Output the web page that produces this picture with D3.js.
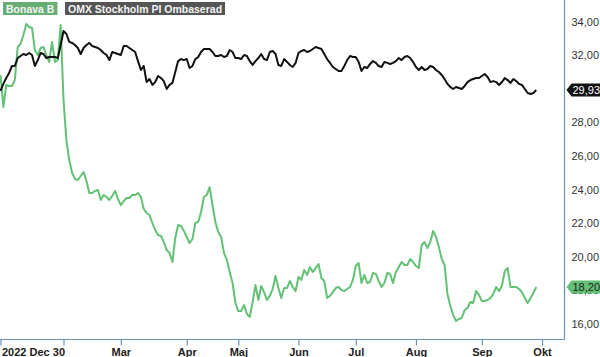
<!DOCTYPE html>
<html><head><meta charset="utf-8">
<script src="https://cdn.jsdelivr.net/npm/d3@7"></script>
<style>
html,body{margin:0;padding:0;background:#fff;}
svg{display:block;font-family:"Liberation Sans",Arial,sans-serif;}
</style></head>
<body>
<svg id="c" width="600" height="357"></svg>
<script>
// ---- data (trading-day index 0 = 2022 Dec 30) ----
const seriesNames = ["Bonava B", "OMX Stockholm PI Ombaserad"];
const bonava = [
30.82,28.92,30.23,30.17,30.17,30.52,32.49,32.67,33.20,33.86,
33.68,33.62,32.31,32.01,32.43,32.49,32.01,31.60,32.79,31.60,
31.71,33.80,29.33,26.95,25.76,24.99,24.63,24.57,24.81,25.05,
24.51,23.80,23.80,23.92,23.98,23.38,23.68,23.56,23.38,23.62,
23.92,23.44,23.08,23.32,23.50,23.50,23.68,23.68,23.80,23.56,
22.85,22.61,22.49,22.01,21.60,21.30,21.24,20.88,20.40,20.23,
19.69,21.12,21.89,21.83,21.54,21.18,20.82,21.06,22.01,22.07,
22.67,23.56,23.68,24.15,23.08,22.07,21.48,21.18,20.23,19.81,
19.10,18.44,17.25,16.77,16.77,17.13,16.60,16.42,17.31,18.32,
17.43,18.26,17.90,17.43,17.67,18.08,18.86,18.14,17.55,18.14,
18.14,18.56,18.20,17.96,18.80,18.62,19.21,18.92,19.39,19.10,
19.33,19.57,18.74,18.56,17.55,17.67,17.90,18.14,18.20,18.02,
17.96,18.08,18.20,18.62,19.45,19.63,18.44,18.92,18.44,18.50,
19.04,18.98,18.56,18.20,18.44,19.04,18.98,18.44,19.10,19.39,
19.69,19.51,19.51,19.87,19.69,19.45,19.33,20.70,20.88,20.52,
20.88,21.54,21.18,20.58,19.87,19.51,17.79,17.07,16.54,16.18,
16.30,16.36,16.83,16.95,17.31,17.25,17.96,17.73,17.37,17.37,
17.43,17.55,17.79,18.20,17.96,18.26,19.15,19.33,18.20,18.20,
18.20,18.08,17.90,17.55,17.25,17.55,17.85,18.20
];
const omx = [
29.87,30.29,30.64,30.94,31.36,31.36,31.83,31.95,32.07,32.01,
32.13,32.01,31.36,31.71,32.13,32.07,31.83,31.89,31.89,31.89,
31.83,32.61,33.44,33.26,32.79,32.73,32.61,32.43,32.07,32.43,
32.61,32.73,32.55,32.49,32.43,32.31,32.13,32.01,31.71,32.19,
32.13,32.07,32.01,32.55,32.55,32.43,32.31,32.19,31.65,31.12,
31.36,30.40,30.58,30.23,30.40,30.76,30.64,30.46,29.99,30.23,
30.35,31.00,31.65,31.77,31.71,31.77,31.24,31.36,31.77,31.89,
32.19,32.37,32.37,32.37,32.19,31.95,31.95,32.01,31.89,31.95,
32.31,32.19,31.83,31.83,31.77,32.01,31.95,31.65,31.42,31.65,
31.83,32.07,31.77,31.71,32.19,32.25,32.07,31.42,31.36,31.77,
31.60,31.42,31.30,31.54,32.13,32.25,32.31,32.19,32.25,32.37,
32.49,32.43,32.37,32.07,31.77,31.54,31.30,31.18,31.06,31.06,
31.36,31.71,31.95,31.89,31.89,31.60,31.06,31.30,31.24,31.48,
31.65,31.54,31.36,31.30,31.60,31.54,31.48,31.54,31.65,31.83,
31.71,31.89,31.95,31.83,31.60,31.30,31.12,31.30,31.12,31.18,
31.36,31.30,31.12,31.00,30.82,30.58,30.29,30.11,29.99,30.11,
30.05,29.99,30.17,30.40,30.52,30.58,30.64,30.64,30.76,30.88,
30.70,30.40,30.46,30.40,30.23,30.40,30.64,30.52,30.35,30.58,
30.46,30.29,30.23,29.99,29.75,29.69,29.75,29.93
];
const xTickLabels = ["2022 Dec 30", "", "Mar", "Apr", "Maj", "Jun", "Jul", "Aug", "Sep", "Okt"];
const xTickIndex  = [0, 22, 42, 65, 83, 104, 124, 145, 168, 189];
const yTickValues = [16, 18, 20, 22, 24, 26, 28, 30, 32, 34];

// ---- layout ----
const W = 600, H = 357;
const plotR = 564.5, plotB = 339.5;
const GREEN = "#62c174", GREEN_LEG = "#66ae74", BLACK = "#111111", AXIS = "#6a93b6";

const svg = d3.select("#c");
const x = d3.scaleLinear().domain([0, 189]).range([0.5, 542]);
const y = d3.scaleLinear().domain([16, 34]).range([324, 21.6]);

svg.append("defs").append("clipPath").attr("id", "clip")
  .append("rect").attr("x", 0).attr("y", 0).attr("width", plotR).attr("height", plotB);

const line = d3.line().x((d, i) => x(i)).y(d => y(d)).curve(d3.curveLinear);
const g = svg.append("g").attr("clip-path", "url(#clip)");
g.append("path").datum(bonava).attr("d", line)
  .attr("fill", "none").attr("stroke", GREEN).attr("stroke-width", 2).attr("stroke-linejoin", "round");
g.append("path").datum(omx).attr("d", line)
  .attr("fill", "none").attr("stroke", BLACK).attr("stroke-width", 2).attr("stroke-linejoin", "round");

// bottom axis
const xAxis = d3.axisBottom(x).tickValues(xTickIndex)
  .tickFormat((d, i) => xTickLabels[i]).tickSize(6).tickSizeOuter(0).tickPadding(3);
const gx = svg.append("g").attr("transform", `translate(0,${plotB})`).call(xAxis);
gx.select(".domain").remove();
gx.selectAll(".tick line").attr("stroke", AXIS).attr("stroke-width", 1.2);
gx.selectAll(".tick text").attr("fill", "#222").attr("font-size", 11).attr("font-weight", "bold")
  .attr("font-family", "'Liberation Sans',Arial,sans-serif");
gx.selectAll(".tick text").filter((d, i) => i === 0).attr("text-anchor", "start").attr("x", 1);

// right axis
const yAxis = d3.axisRight(y).tickValues(yTickValues).tickSize(0).tickPadding(7)
  .tickFormat(d => d.toFixed(2).replace(".", ","));
const gy = svg.append("g").attr("transform", `translate(${plotR},0)`).call(yAxis);
gy.select(".domain").remove();
gy.selectAll(".tick text").attr("fill", "#333").attr("font-size", 11)
  .attr("font-family", "'Liberation Sans',Arial,sans-serif");

// frame lines
svg.append("line").attr("x1", 0).attr("x2", plotR).attr("y1", plotB).attr("y2", plotB)
  .attr("stroke", AXIS).attr("stroke-width", 1.2);
svg.append("line").attr("x1", plotR).attr("x2", plotR).attr("y1", 0).attr("y2", plotB)
  .attr("stroke", AXIS).attr("stroke-width", 1.2);

// last value tags
function tag(v, fill, textFill) {
  const cy = y(v);
  const tg = svg.append("g");
  tg.append("path")
    .attr("d", `M${plotR + 2},${cy} L${plotR + 7},${cy - 6.5} L${W},${cy - 6.5} L${W},${cy + 6.5} L${plotR + 7},${cy + 6.5} Z`)
    .attr("fill", fill);
  tg.append("text").attr("x", plotR + 8).attr("y", cy + 4).attr("font-size", 11)
    .attr("fill", textFill).text(v.toFixed(2).replace(".", ","));
}
tag(omx[omx.length - 1], BLACK, "#fff");
tag(bonava[bonava.length - 1], GREEN, "#222");

// legend
const legend = [
  { name: seriesNames[0], fill: GREEN_LEG, x: 3 },
  { name: seriesNames[1], fill: "#555555", x: 65 }
];
legend.forEach(l => {
  const r = svg.append("rect").attr("x", l.x).attr("y", 2).attr("height", 13).attr("fill", l.fill);
  const t = svg.append("text").attr("x", l.x + 3).attr("y", 12.5).attr("font-size", 10.5).attr("font-weight", "bold")
    .attr("fill", "#f4f4f4").text(l.name);
  r.attr("width", t.node().getComputedTextLength() + 6);
});
</script>
</body></html>
